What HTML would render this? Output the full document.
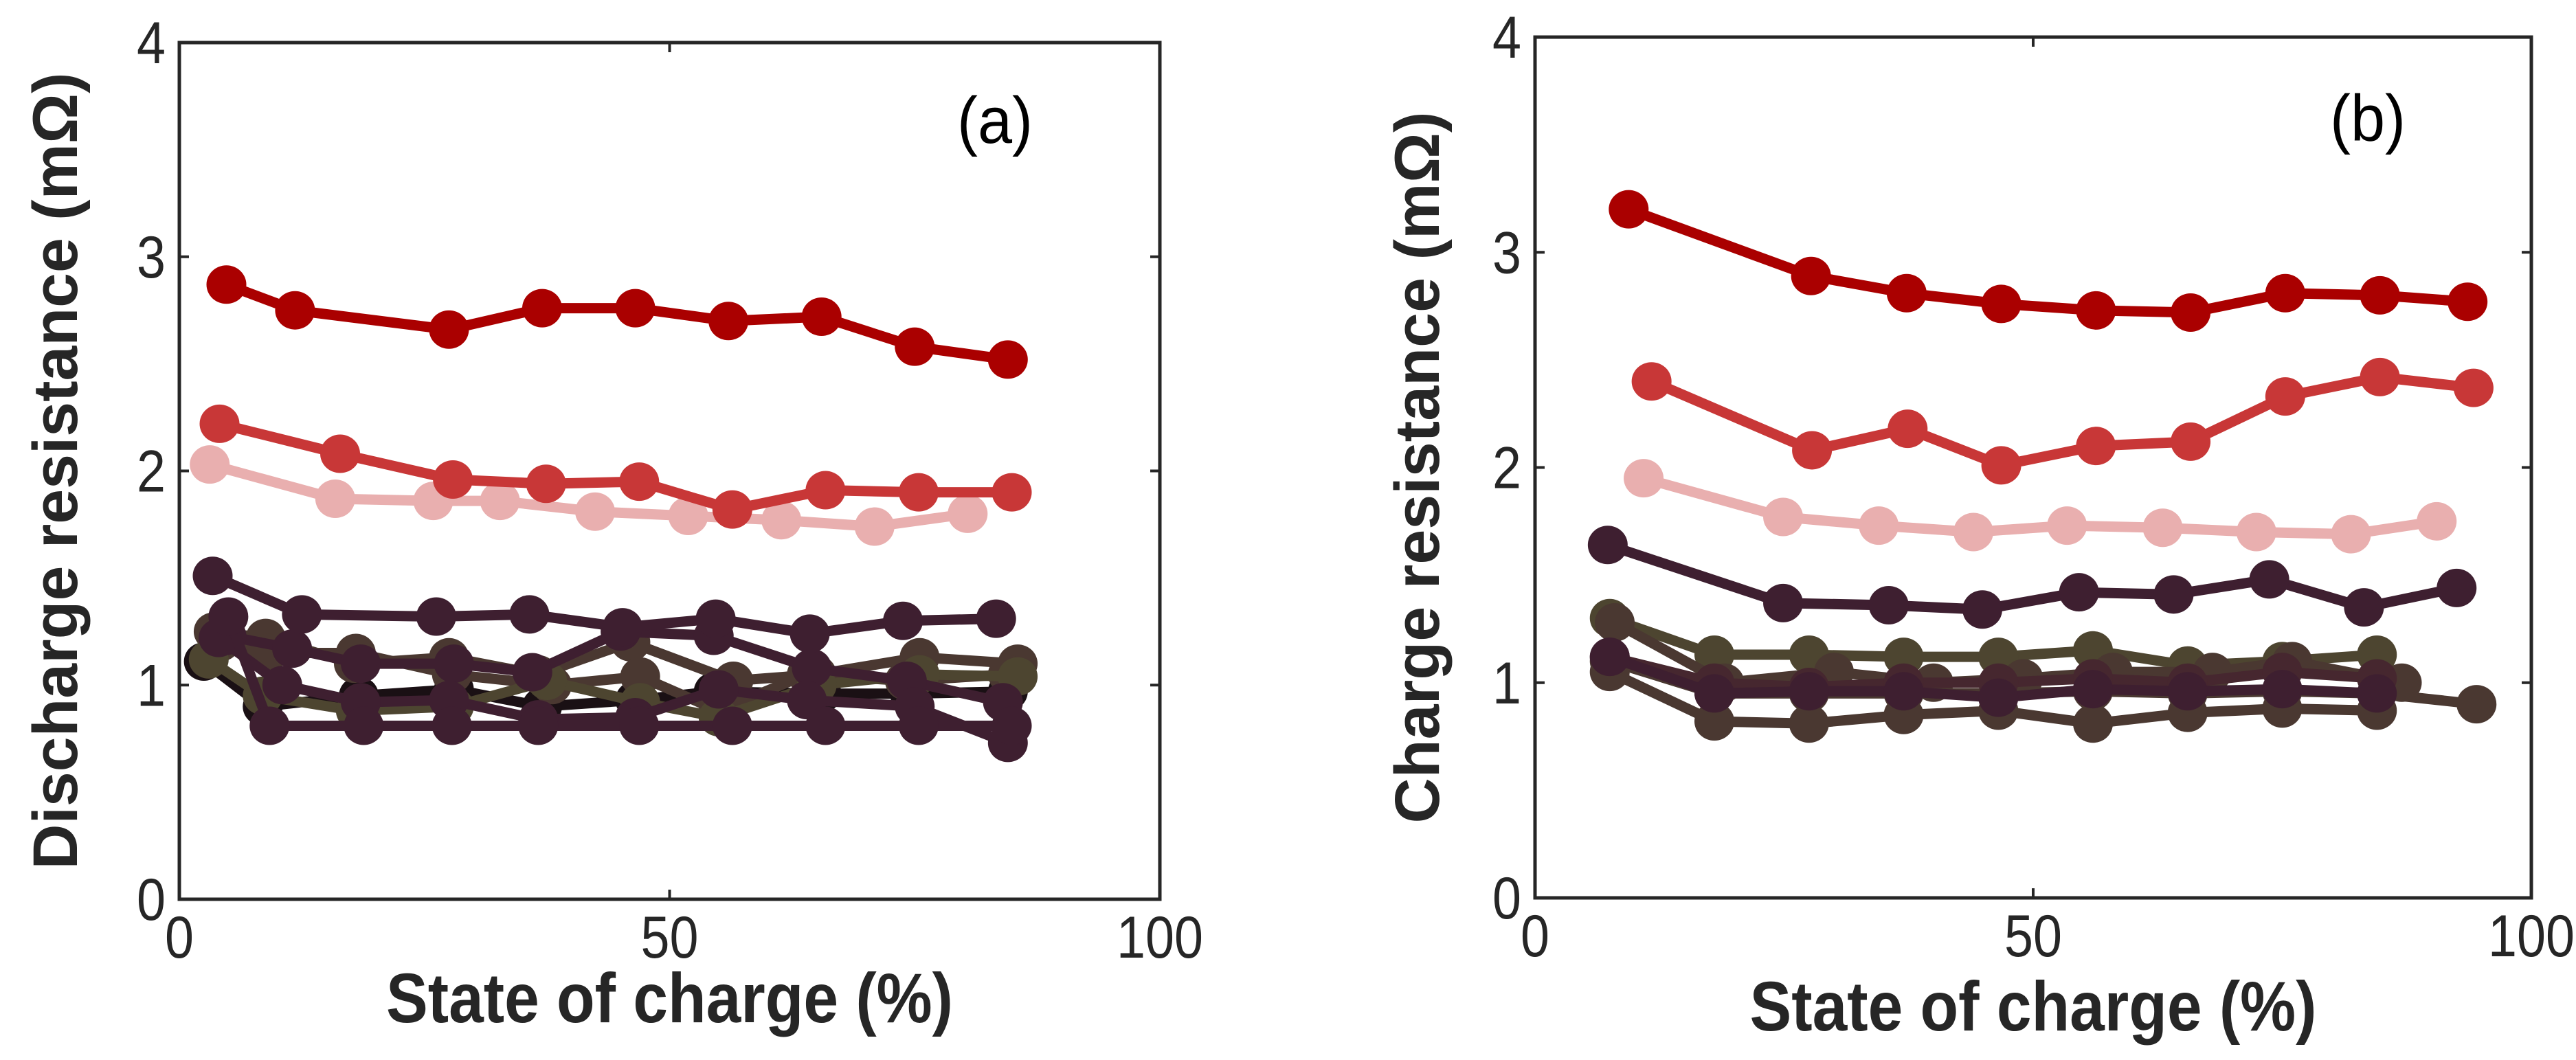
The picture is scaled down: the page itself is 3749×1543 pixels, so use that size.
<!DOCTYPE html>
<html><head><meta charset="utf-8">
<style>
html,body{margin:0;padding:0;background:#fff;}
svg text{font-family:"Liberation Sans Narrow","Liberation Sans",sans-serif;fill:#262626;}
</style></head>
<body>
<svg id="fig" xmlns="http://www.w3.org/2000/svg" width="3749" height="1538" viewBox="0 0 3749 1538">
</svg>
<script>
// ---- Panel (a): discharge resistance ----
const aSoc1=[4.8,11.8,27.5,37.0,46.5,56.0,65.5,75.0,84.5];
const aVal1=[2.87,2.75,2.66,2.76,2.76,2.70,2.72,2.58,2.52];
const aSoc2=[4.1,16.4,27.9,37.4,46.9,56.4,65.9,75.4,84.9];
const aVal2=[2.22,2.08,1.96,1.94,1.95,1.82,1.91,1.90,1.90];
const aSoc3=[3.1,15.9,25.9,32.7,42.4,51.9,61.4,70.9,80.4];
const aVal3=[2.03,1.87,1.86,1.86,1.81,1.79,1.77,1.74,1.80];
const aSoc4=[3.4,12.5,26.2,35.7,45.2,54.7,64.3,73.8,83.3];
const aVal4=[1.51,1.33,1.32,1.33,1.27,1.31,1.24,1.30,1.31];
const aSoc5=[5,9.2,18.8,27.8,36.6,46.9,56.4,65.9,75.4,84.9];
const aVal5=[1.32,0.81,0.81,0.81,0.81,0.81,0.81,0.81,0.81,0.81];
const aSoc6=[4,10.5,18.5,27.5,36.6,46.5,55,64,75,84.5];
const aVal6=[1.22,1.00,0.92,0.93,0.84,0.85,0.98,0.93,0.90,0.73];
const aSoc7=[3.5,8.8,17.8,27.5,36.6,46,56.5,65,75.5,85.5];
const aVal7=[1.25,1.22,1.10,1.13,1.05,1.20,1.02,1.05,1.13,1.10];
const aSoc8=[4.2,9,18,27.8,38,47,55,64,74,84.5];
const aVal8=[1.20,1.15,1.15,1.05,1.00,1.04,0.88,1.05,1.02,1.05];
const aSoc9=[3,8.5,18,28,37.5,47,55,65,75.5,85.5];
const aVal9=[1.12,0.95,0.88,0.90,1.02,0.92,0.85,1.00,1.05,1.04];
const aSoc10=[4.8,11.5,18.5,28,36,45,54.5,64.5,74.2,84];
const aVal10=[1.23,1.17,1.10,1.10,1.06,1.25,1.23,1.08,1.02,0.92];
const aSoc11=[2.5,8.5,18.3,28,37,46.5,54.5,65.5,74.5,84.5];
const aVal11=[1.11,0.90,0.95,0.98,0.90,0.93,0.97,0.96,0.96,0.97];

// ---- Panel (b): charge resistance ----
const bSoc1=[9.4,27.7,37.3,46.8,56.3,65.8,75.3,84.8,93.6];
const bVal1=[3.20,2.89,2.81,2.76,2.73,2.72,2.81,2.80,2.77];
const bSoc2=[11.7,27.8,37.4,46.8,56.3,65.8,75.3,84.8,94.2];
const bVal2=[2.40,2.08,2.18,2.01,2.10,2.12,2.33,2.42,2.37];
const bSoc3=[10.9,24.9,34.5,44.0,53.4,63.0,72.4,81.9,90.5];
const bVal3=[1.95,1.77,1.73,1.70,1.73,1.72,1.70,1.69,1.75];
const bSoc4=[7.3,24.9,35.5,44.9,54.6,64.1,73.7,83.2,92.5];
const bVal4=[1.64,1.37,1.36,1.34,1.42,1.41,1.48,1.35,1.44];
const bSoc5=[7.5,18,27.5,37,46.5,56,65.5,75,84.5];
const bVal5=[1.30,1.13,1.13,1.12,1.12,1.15,1.08,1.10,1.13];
const bSoc6=[7.5,18,27.5,37,46.5,56,65.5,75,84.5];
const bVal6=[1.05,0.82,0.81,0.85,0.87,0.81,0.86,0.88,0.87];
const bSoc7=[8,19,30,40,49,58,68,76,87];
const bVal7=[1.28,1.00,1.05,1.00,1.02,1.05,1.05,1.10,1.00];
const bSoc8=[7.5,18,27.5,37,46.5,56,65.5,75,84.5,94.5];
const bVal8=[1.10,0.95,0.95,0.95,0.95,0.96,0.95,0.96,0.95,0.90];
const bSoc9=[7.5,18,27.5,37,46.5,56,65.5,75,84.5];
const bVal9=[1.12,1.00,0.98,1.00,1.00,1.02,1.00,1.05,1.02];
const bSoc10=[7.5,18,27.5,37,46.5,56,65.5,75,84.5];
const bVal10=[1.12,0.95,0.96,0.96,0.93,0.97,0.96,0.97,0.95];

const xTicks=[0,50,100];
const yTicks=[0,1,2,3,4];

const NS="http://www.w3.org/2000/svg";
const svg=document.getElementById('fig');
function mk(tag,attrs,parent){const e=document.createElementNS(NS,tag);for(const k in attrs)e.setAttribute(k,attrs[k]);(parent||svg).appendChild(e);return e;}

function panel(id,box,ylabel,ylen,tag,labelPos,series,ylabX,xtitleY){
  const g=mk('g',{});
  
  
  const X=v=>box.x0+(box.x1-box.x0)*v/100;
  const Y=v=>box.y1-(box.y1-box.y0)*v/4;
  series.forEach((s,i)=>{
    const sg=mk('g',{},g);
    
    
    const pts=s.soc.map((x,j)=>X(x)+','+Y(s.val[j])).join(' ');
    const pl=mk('polyline',{points:pts,fill:'none',stroke:s.c,'stroke-width':15,'stroke-linejoin':'round'},sg);
    
    
    s.soc.forEach((x,j)=>{
      const c=mk('ellipse',{cx:X(x),cy:Y(s.val[j]),rx:29,ry:28,fill:s.c},sg);
      
      
    });
  });
  const fr=mk('rect',{x:box.x0,y:box.y0,width:box.x1-box.x0,height:box.y1-box.y0,fill:'none',stroke:'#262626','stroke-width':5},g);
  
  
  xTicks.forEach(t=>{
    mk('line',{x1:X(t),x2:X(t),y1:box.y1,y2:box.y1-14,stroke:'#262626','stroke-width':4},g);
    mk('line',{x1:X(t),x2:X(t),y1:box.y0,y2:box.y0+14,stroke:'#262626','stroke-width':4},g);
    const s=String(t);
    const tx=mk('text',{x:X(t),y:box.y1+85,'font-size':86,'text-anchor':'middle',textLength:s.length*42,lengthAdjust:'spacingAndGlyphs'},g);
    tx.textContent=t;
    
    
  });
  yTicks.forEach(t=>{
    mk('line',{x1:box.x0,x2:box.x0+14,y1:Y(t),y2:Y(t),stroke:'#262626','stroke-width':4},g);
    mk('line',{x1:box.x1,x2:box.x1-14,y1:Y(t),y2:Y(t),stroke:'#262626','stroke-width':4},g);
    const ty=mk('text',{x:box.x0-20,y:Y(t)+30,'font-size':86,'text-anchor':'end',textLength:42,lengthAdjust:'spacingAndGlyphs'},g);
    ty.textContent=t;
    
    
  });
  const xt=mk('text',{x:(box.x0+box.x1)/2,y:xtitleY,'font-size':102,'font-weight':'bold','text-anchor':'middle',textLength:825,lengthAdjust:'spacingAndGlyphs'},g);
  xt.textContent='State of charge (%)';
  
  
  const cy=(box.y0+box.y1)/2;
  const yt=mk('text',{x:ylabX,y:cy,'font-size':92,'font-weight':'bold','text-anchor':'middle',textLength:ylen,lengthAdjust:'spacingAndGlyphs',transform:'rotate(-90 '+ylabX+' '+cy+')',style:'font-family:"Liberation Sans",sans-serif'},g);
  yt.textContent=ylabel;
  
  
  const pl=mk('text',{x:labelPos[0],y:labelPos[1],'font-size':96,'text-anchor':'middle',textLength:110,lengthAdjust:'spacingAndGlyphs',style:'fill:#000'},g);
  pl.textContent=tag;
  
  
}

const P='#3e1f30', B='#4a3831', O='#4d4530', K='#1a1014';
panel('panel-a',{x0:261,x1:1688,y0:62,y1:1309},'Discharge resistance (mΩ)',1160,'(a)',[1448,208],[
 {soc:aSoc11,val:aVal11,c:K},
 {soc:aSoc7,val:aVal7,c:B},
 {soc:aSoc8,val:aVal8,c:B},
 {soc:aSoc9,val:aVal9,c:O},
 {soc:aSoc10,val:aVal10,c:P},
 {soc:aSoc6,val:aVal6,c:P},
 {soc:aSoc5,val:aVal5,c:P},
 {soc:aSoc4,val:aVal4,c:P},
 {soc:aSoc3,val:aVal3,c:'#e9afaf'},
 {soc:aSoc2,val:aVal2,c:'#c83737'},
 {soc:aSoc1,val:aVal1,c:'#aa0000'}
],112,1488);
panel('panel-b',{x0:2234,x1:3684,y0:54,y1:1307},'Charge resistance (mΩ)',1036,'(b)',[3446,205],[
 {soc:bSoc8,val:bVal8,c:B},
 {soc:bSoc6,val:bVal6,c:B},
 {soc:bSoc5,val:bVal5,c:O},
 {soc:bSoc7,val:bVal7,c:B},
 {soc:bSoc9,val:bVal9,c:'#46272f'},
 {soc:bSoc10,val:bVal10,c:P},
 {soc:bSoc4,val:bVal4,c:P},
 {soc:bSoc3,val:bVal3,c:'#e9afaf'},
 {soc:bSoc2,val:bVal2,c:'#c83737'},
 {soc:bSoc1,val:bVal1,c:'#aa0000'}
],2094,1500);
</script>
</body></html>
